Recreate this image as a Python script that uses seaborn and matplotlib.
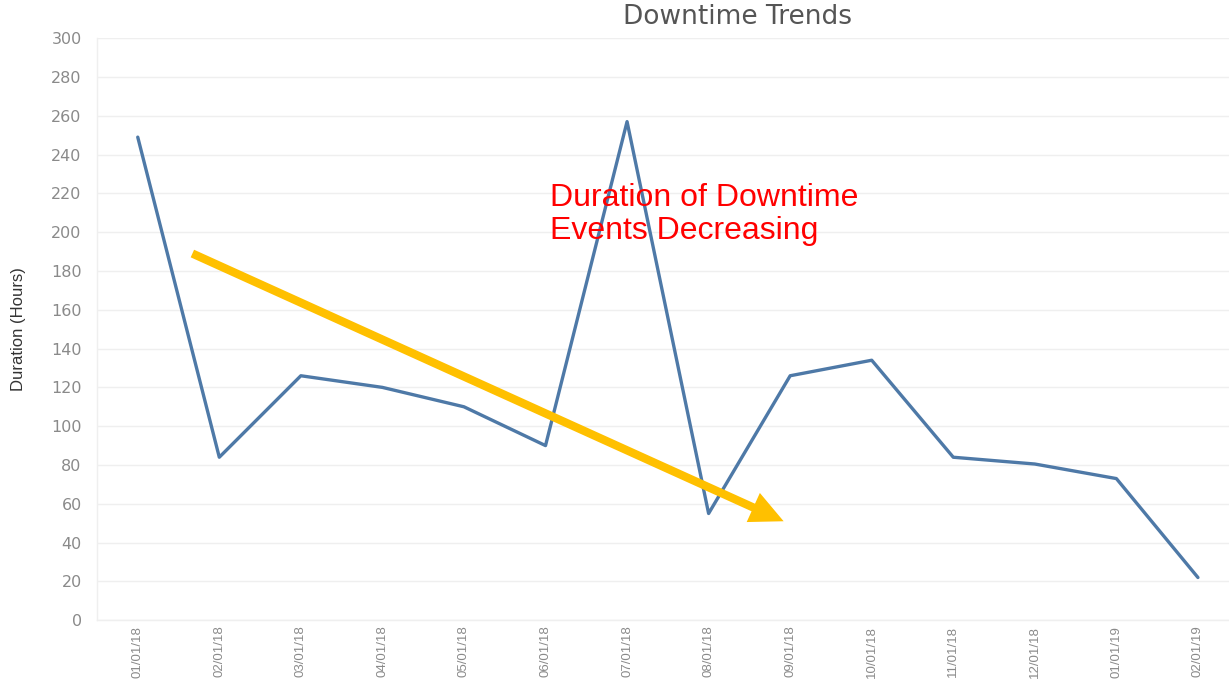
import matplotlib
matplotlib.use("Agg")
import matplotlib.pyplot as plt
import seaborn as sns
import pandas as pd
import numpy as np

# Données du graphique
dates = ['01/01/18', '02/01/18', '03/01/18', '04/01/18', '05/01/18', '06/01/18',
         '07/01/18', '08/01/18', '09/01/18', '10/01/18', '11/01/18', '12/01/18',
         '01/01/19', '02/01/19']
duration_hours = [249, 84, 126, 120, 110, 90, 257, 55, 126, 134, 84, 80.5, 73, 22]
y_ticks = list(range(0, 301, 20))

df = pd.DataFrame({'Date': dates, 'Duration': duration_hours})

# Style
sns.set_theme(style='white')
plt.rcParams['font.family'] = ['Liberation Sans', 'DejaVu Sans']

line_color = '#4E79A7'
grid_color = '#EFEFEF'
label_color = '#8A8A8A'

fig = plt.figure(figsize=(12.29, 6.81), dpi=100)
ax = fig.add_axes([0.0789, 0.0893, 0.929, 0.8546])

sns.lineplot(data=df, x='Date', y='Duration', color=line_color,
             linewidth=2.4, sort=False, ax=ax)

# Axes
ax.set_ylim(0, 300)
ax.set_xlim(-0.5, len(dates) - 0.5)
ax.set_yticks(y_ticks)
ax.set_yticklabels([str(v) for v in y_ticks], color=label_color, fontsize=11.5,
                   family=['DejaVu Sans'])
ax.grid(axis='y', color=grid_color, linewidth=1)
ax.set_axisbelow(True)

ax.set_xticks(range(len(dates)))
ax.set_xticklabels(dates, rotation=90, color=label_color, fontsize=9.5,
                   family=['Liberation Sans'])
ax.set_xticks(np.arange(-0.5, len(dates)), minor=True)
ax.tick_params(axis='x', which='major', length=0, pad=4)
ax.tick_params(axis='x', which='minor', length=4, color=grid_color, width=1)
ax.tick_params(axis='y', which='major', length=7, color=grid_color, width=1, pad=4)

for side in ['top', 'right']:
    ax.spines[side].set_visible(False)
for side in ['left', 'bottom']:
    ax.spines[side].set_color(grid_color)
    ax.spines[side].set_linewidth(1)

ax.set_xlabel('')
ax.set_ylabel('Duration (Hours)', fontsize=12, color='#333333',
              family=['Liberation Sans'])
ax.yaxis.set_label_coords(-0.062, 0.5)

# Titre
fig.text(0.6, 0.975, 'Downtime Trends', ha='center', va='center',
         fontsize=19, color='#555555', family=['DejaVu Sans'])

# Flèche de tendance et annotation
ax.annotate('', xy=(7.92, 51), xytext=(0.67, 189),
            arrowprops=dict(arrowstyle='simple,head_length=1.2,head_width=1.15,tail_width=0.3',
                            facecolor='#FFC000', edgecolor='none', lw=0,
                            shrinkA=0, shrinkB=0, mutation_scale=20))
ax.text(5.05, 209, 'Duration of Downtime\nEvents Decreasing', color='#FF0000',
        fontsize=23, ha='left', va='center', linespacing=1.15,
        family=['Liberation Sans', 'DejaVu Sans'])

fig.savefig('out.png', dpi=100)
